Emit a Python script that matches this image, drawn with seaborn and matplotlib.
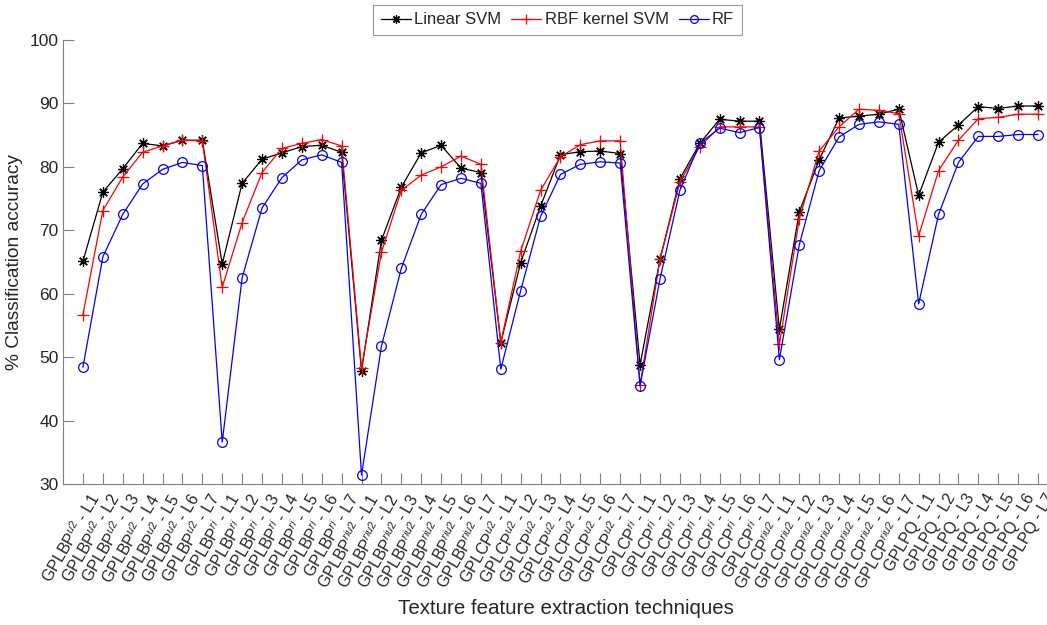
import numpy as np
import matplotlib
matplotlib.use("Agg")
import matplotlib.pyplot as plt
import matplotlib.transforms as mtransforms
import seaborn as sns

# Descriptor families and their levels
families = ["GPLBP$^{u2}$", "GPLBP$^{ri}$", "GPLBP$^{riu2}$",
            "GPLCP$^{u2}$", "GPLCP$^{ri}$", "GPLCP$^{riu2}$", "GPLPQ"]
levels = ["L1", "L2", "L3", "L4", "L5", "L6", "L7"]

# Classification accuracy (%) per technique
linear_svm = [65.1, 76.0, 79.7, 83.7, 83.3, 84.2, 84.2,
              64.7, 77.4, 81.2, 82.2, 83.2, 83.4, 82.3,
              47.8, 68.4, 76.8, 82.2, 83.4, 79.8, 79.1,
              52.3, 64.9, 73.8, 81.9, 82.4, 82.5, 82.1,
              48.8, 65.4, 78.1, 83.7, 87.5, 87.2, 87.2,
              54.4, 72.9, 81.1, 87.7, 88.0, 88.3, 89.1,
              75.5, 83.9, 86.6, 89.5, 89.2, 89.6, 89.6]
rbf_svm = [56.7, 73.1, 78.4, 82.3, 83.3, 84.2, 84.1,
           61.0, 71.2, 79.1, 82.9, 83.7, 84.3, 83.3,
           48.3, 66.5, 76.3, 78.7, 80.0, 81.7, 80.4,
           52.3, 66.7, 76.3, 81.6, 83.5, 84.1, 84.1,
           45.6, 65.4, 77.6, 83.2, 86.3, 86.3, 86.3,
           52.0, 71.8, 82.5, 86.3, 89.1, 88.9, 88.4,
           69.1, 79.4, 84.2, 87.6, 87.8, 88.3, 88.3]
rf = [48.4, 65.8, 72.5, 77.3, 79.6, 80.7, 80.2,
      36.6, 62.5, 73.5, 78.3, 81.1, 81.9, 80.7,
      31.4, 51.7, 64.0, 72.5, 77.2, 78.2, 77.4,
      48.1, 60.5, 72.2, 78.8, 80.4, 80.8, 80.6,
      45.5, 62.3, 76.3, 83.7, 86.1, 85.4, 86.2,
      49.6, 67.7, 79.4, 84.7, 86.7, 87.1, 86.7,
      58.4, 72.5, 80.7, 84.8, 84.8, 85.1, 85.1]

tick_labels = [f"{f} - {l}" for f in families for l in levels]

sns.set_theme(style="white")
plt.rcParams["font.family"] = ["Liberation Sans", "DejaVu Sans"]
plt.rcParams["mathtext.fontset"] = "custom"
plt.rcParams["mathtext.rm"] = "Liberation Sans"
plt.rcParams["mathtext.it"] = "Liberation Sans:italic"

n = len(tick_labels)
x = np.arange(n)

fig = plt.figure(figsize=(10.47, 6.25), dpi=100)
ax = fig.add_axes([0.0602, 0.2256, 0.9398, 0.7104])

series = [
    ("Linear SVM", linear_svm, "black", (8, 2, 0), 7.5),
    ("RBF kernel SVM", rbf_svm, "#ff0000", "+", 8.5),
    ("RF", rf, "#0000ff", "o", 7),
]
for name, vals, color, marker, ms in series:
    sns.lineplot(x=x, y=vals, color=color, marker=marker, markersize=ms,
                 markerfacecolor="none", markeredgecolor=color,
                 markeredgewidth=0.9, linewidth=0.9, label=name, ax=ax)

ax.set_xlim(-1, 48.45)
ax.set_ylim(30, 100)
ax.set_yticks(np.arange(30, 101, 10))
ax.set_xticks(x)
ax.tick_params(axis="y", labelsize=12.5, direction="in", length=8,
               color="#808080", width=0.8, left=True, pad=3)
ax.tick_params(axis="x", direction="in", length=8, color="#808080",
               width=0.8, bottom=True, pad=0)
ax.set_xticklabels(tick_labels, rotation=60, ha="right", va="center",
                   rotation_mode="anchor", fontsize=11.5)
# shift the slanted labels so their ends sit just below-right of each tick
offset = mtransforms.ScaledTranslation(13 / 100, -11 / 100, fig.dpi_scale_trans)
for lbl in ax.get_xticklabels():
    lbl.set_transform(lbl.get_transform() + offset)

for side in ("top", "right"):
    ax.spines[side].set_visible(False)
for side in ("left", "bottom"):
    ax.spines[side].set_color("#808080")
    ax.spines[side].set_linewidth(0.8)

ax.set_xlabel("Texture feature extraction techniques", fontsize=14.8)
ax.xaxis.set_label_coords(0.511, -0.26)
ax.set_ylabel("% Classification accuracy", fontsize=13.8, labelpad=5)

handles, labels = ax.get_legend_handles_labels()
ax.get_legend().remove()
leg = fig.legend(handles, labels, loc="upper center", bbox_to_anchor=(0.5325, 0.992),
                 ncol=3, frameon=True, fancybox=False, fontsize=12,
                 handlelength=1.8, handletextpad=0.2, columnspacing=0.6,
                 borderpad=0.45, borderaxespad=0, markerscale=0.8)
leg.get_frame().set_edgecolor("#808080")
leg.get_frame().set_linewidth(0.8)

fig.savefig("out.png", dpi=100)
